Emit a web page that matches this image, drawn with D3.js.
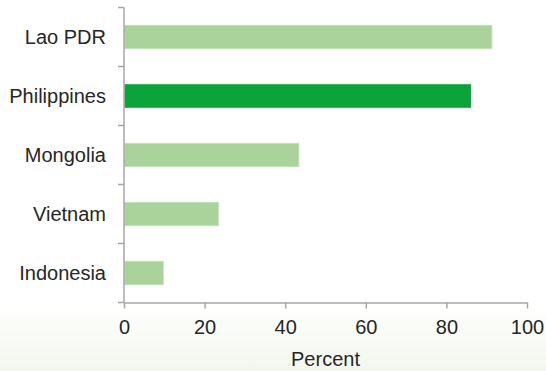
<!DOCTYPE html>
<html>
<head>
<meta charset="utf-8">
<script src="https://cdn.jsdelivr.net/npm/d3@7"></script>
<style>
  html, body { margin: 0; padding: 0; background: #fff; }
  svg { display: block; font-family: "Liberation Sans", Arial, sans-serif; }
</style>
</head>
<body>
<svg id="chart" width="546" height="371"></svg>
<script>
// Share of respondents, by country (percent)
const countries = ["Lao PDR", "Philippines", "Mongolia", "Vietnam", "Indonesia"];
const values = [91.3, 86.1, 43.4, 23.5, 9.8];
const highlighted = ["Philippines"];
const xTicks = [0, 20, 40, 60, 80, 100];
const xTitle = "Percent";

const svg = d3.select("#chart");
const W = 546, H = 371;
const fontSize = 20;

// soft green wash toward the bottom edge
const defs = svg.append("defs");
const grad = defs.append("linearGradient")
  .attr("id", "bg").attr("x1", 0).attr("y1", 0).attr("x2", 0).attr("y2", 1);
grad.append("stop").attr("offset", "0%").attr("stop-color", "#ffffff");
grad.append("stop").attr("offset", "82%").attr("stop-color", "#ffffff");
grad.append("stop").attr("offset", "100%").attr("stop-color", "#f2f7ee");
svg.append("rect").attr("width", W).attr("height", H).attr("fill", "url(#bg)");

const plotLeft = 124, plotRight = 527, plotTop = 7.5, plotBottom = 302.5;

const x = d3.scaleLinear().domain([0, 100]).range([plotLeft, plotRight]);
const y = d3.scaleBand().domain(countries).range([plotTop, plotBottom])
  .paddingInner(0.6).paddingOuter(0.3);
const yEdges = d3.scaleBand().domain(countries).range([plotTop, plotBottom]);

const axisColor = "#a6a6a6";
const textColor = "#262626";

// bars
svg.append("g").selectAll("rect")
  .data(countries)
  .join("rect")
  .attr("x", x(0) + 0.5)
  .attr("y", d => y(d))
  .attr("width", (d, i) => x(values[i]) - x(0) - 0.5)
  .attr("height", y.bandwidth())
  .attr("fill", d => highlighted.includes(d) ? "#0ba43a" : "#aad39c")
  .attr("stroke", d => highlighted.includes(d) ? "none" : "#c9e5c0")
  .attr("stroke-width", 0.8);

// y axis: line with ticks between categories
const gy = svg.append("g");
gy.append("line")
  .attr("x1", plotLeft).attr("x2", plotLeft)
  .attr("y1", plotTop).attr("y2", plotBottom)
  .attr("stroke", axisColor).attr("stroke-width", 1.5);
const edges = countries.map(c => yEdges(c)).concat([plotBottom]);
gy.selectAll("line.tick").data(edges).join("line")
  .attr("class", "tick")
  .attr("x1", plotLeft - 6).attr("x2", plotLeft)
  .attr("y1", d => d).attr("y2", d => d)
  .attr("stroke", axisColor).attr("stroke-width", 1.5);
gy.selectAll("text").data(countries).join("text")
  .attr("x", plotLeft - 18)
  .attr("y", d => yEdges(d) + yEdges.bandwidth() / 2)
  .attr("dy", "0.35em")
  .attr("text-anchor", "end")
  .attr("font-size", fontSize)
  .attr("fill", textColor)
  .text(d => d);

// x axis
const xAxis = d3.axisBottom(x).tickValues(xTicks).tickSize(6).tickPadding(11).tickSizeOuter(0);
const gx = svg.append("g").attr("transform", `translate(0,${plotBottom})`).call(xAxis);
gx.select(".domain").attr("stroke", axisColor).attr("stroke-width", 1.5);
gx.selectAll(".tick line").attr("stroke", axisColor).attr("stroke-width", 1.5);
gx.selectAll(".tick text")
  .attr("font-size", fontSize)
  .attr("font-family", "Liberation Sans, Arial, sans-serif")
  .attr("fill", textColor);

svg.append("text")
  .attr("x", (plotLeft + plotRight) / 2)
  .attr("y", 366)
  .attr("text-anchor", "middle")
  .attr("font-size", fontSize)
  .attr("fill", textColor)
  .text(xTitle);
</script>
</body>
</html>
